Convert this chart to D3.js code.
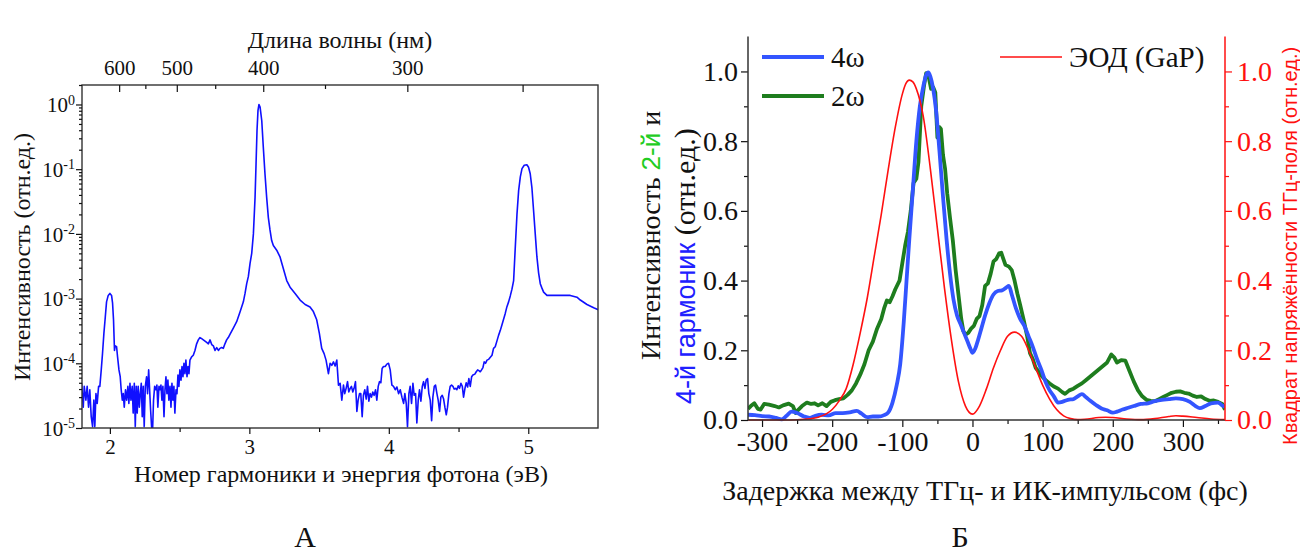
<!DOCTYPE html>
<html>
<head>
<meta charset="utf-8">
<script src="https://cdn.jsdelivr.net/npm/d3@7"></script>
<style>
  body { margin: 0; background: #fff; }
  svg { display: block; }
</style>
</head>
<body>
<svg id="fig" width="1300" height="553"></svg>
<script>
// ---------- Panel A: harmonic spectrum (log scale) ----------
const energy = [
  1.797,1.809,1.816,1.828,1.837,1.847,1.856,1.866,1.876,1.885,1.892,1.900,1.909,1.919,1.928,1.938,1.947,1.957,1.967,1.976,
  1.988,2.000,2.012,2.019,2.026,2.033,2.038,2.048,2.055,2.065,2.074,2.081,2.089,2.096,2.103,2.112,2.120,2.129,2.136,2.144,
  2.151,2.160,2.167,2.175,2.182,2.189,2.196,2.203,2.211,2.218,2.225,2.232,2.239,2.246,2.254,2.263,2.270,2.278,2.285,2.292,
  2.299,2.306,2.313,2.321,2.330,2.337,2.344,2.352,2.359,2.366,2.373,2.380,2.388,2.395,2.402,2.409,2.416,2.423,2.431,2.438,
  2.445,2.452,2.459,2.466,2.474,2.481,2.488,2.495,2.502,2.510,2.517,2.524,2.531,2.538,2.545,2.553,2.560,2.567,2.574,2.586,
  2.598,2.610,2.622,2.634,2.646,2.658,2.670,2.682,2.694,2.706,2.718,2.730,2.742,2.754,2.766,2.778,2.789,2.801,2.813,2.825,
  2.837,2.849,2.861,2.885,2.909,2.933,2.957,2.969,2.981,2.993,3.005,3.017,3.029,3.041,3.048,3.055,3.062,3.069,3.077,3.089,
  3.100,3.112,3.124,3.136,3.148,3.160,3.172,3.196,3.220,3.244,3.268,3.292,3.328,3.364,3.400,3.435,3.459,3.483,3.502,3.519,
  3.536,3.550,3.567,3.579,3.591,3.603,3.615,3.627,3.639,3.651,3.663,3.675,3.684,3.694,3.704,3.713,3.723,3.732,3.742,3.751,
  3.761,3.771,3.780,3.790,3.799,3.809,3.818,3.828,3.838,3.847,3.857,3.866,3.876,3.885,3.895,3.905,3.914,3.924,3.933,3.943,
  3.952,3.962,3.974,3.986,3.998,4.010,4.022,4.034,4.046,4.058,4.070,4.082,4.094,4.106,4.115,4.125,4.134,4.144,4.153,4.163,
  4.173,4.182,4.192,4.201,4.211,4.220,4.230,4.240,4.249,4.259,4.268,4.278,4.287,4.297,4.307,4.316,4.326,4.335,4.345,4.354,
  4.364,4.373,4.383,4.393,4.402,4.412,4.421,4.431,4.440,4.450,4.460,4.469,4.479,4.488,4.498,4.507,4.517,4.527,4.536,4.546,
  4.555,4.565,4.574,4.584,4.594,4.603,4.617,4.627,4.637,4.646,4.656,4.665,4.675,4.684,4.694,4.704,4.716,4.728,4.740,4.751,
  4.763,4.775,4.787,4.799,4.811,4.823,4.835,4.847,4.859,4.871,4.883,4.895,4.907,4.919,4.931,4.943,4.955,4.971,4.990,5.002,
  5.014,5.026,5.038,5.050,5.062,5.074,5.086,5.098,5.110,5.134,5.182,5.254,5.301,5.349,5.373,5.421,5.469,5.510
];
const intensity = [
  4.9e-5,2.1e-5,4.4e-5,2.7e-5,4.4e-5,2.1e-5,3.9e-5,1.5e-5,1.05e-5,2.7e-5,1.05e-5,3.4e-5,2.4e-5,4.4e-5,4.4e-5,7.9e-5,1.41e-4,2.9e-4,5.2e-4,8.9e-4,
  1.12e-3,1.2e-3,1.12e-3,8.6e-4,4.7e-4,1.58e-4,1.86e-4,1.8e-4,1.26e-4,7.9e-5,6.2e-5,3.9e-5,2.7e-5,3.4e-5,2.1e-5,3.9e-5,2.7e-5,4.4e-5,2.4e-5,4.9e-5,
  2.7e-5,4.4e-5,1.7e-5,4.9e-5,1.05e-5,4.4e-5,1.7e-5,4.4e-5,2.1e-5,3.4e-5,4.9e-5,1.5e-5,4.4e-5,1.05e-5,4.4e-5,6.2e-5,3.4e-5,7.9e-5,3.9e-5,1.9e-5,
  1.05e-5,9.0e-6,2.7e-5,4.4e-5,3.9e-5,4.6e-5,2.1e-5,4.4e-5,3.9e-5,4.6e-5,2.7e-5,4.4e-5,1.5e-5,3.9e-5,6.2e-5,3.4e-5,5.5e-5,2.7e-5,4.4e-5,2.1e-5,
  4.9e-5,2.7e-5,4.4e-5,1.7e-5,3.9e-5,3.4e-5,6.6e-5,4.4e-5,7.9e-5,5.5e-5,8.9e-5,6.2e-5,1.0e-4,6.9e-5,1.12e-4,6.2e-5,8.9e-5,6.9e-5,1.12e-4,1.26e-4,
  1.33e-4,1.58e-4,2.0e-4,2.3e-4,2.5e-4,2.4e-4,2.3e-4,2.2e-4,2.1e-4,2.0e-4,2.3e-4,1.95e-4,1.86e-4,1.58e-4,1.75e-4,1.58e-4,1.7e-4,1.75e-4,1.7e-4,2.0e-4,
  2.3e-4,2.5e-4,2.8e-4,3.5e-4,4.4e-4,6.2e-4,8.9e-4,1.2e-3,1.7e-3,2.2e-3,3.5e-3,5.0e-3,1.0e-2,3.7e-2,0.12,0.40,0.81,1.0,0.91,0.56,
  0.22,0.085,0.037,0.018,0.0115,7.9e-3,6.6e-3,5.6e-3,4.4e-3,2.9e-3,1.9e-3,1.5e-3,1.2e-3,9.5e-4,8.1e-4,7.4e-4,6.3e-4,4.7e-4,2.9e-4,1.7e-4,
  1.41e-4,1.12e-4,6.9e-5,1.0e-4,9.3e-5,1.05e-4,9.1e-5,1.12e-4,4.6e-5,4.9e-5,2.7e-5,4.6e-5,3.4e-5,4.1e-5,5.2e-5,3.6e-5,4.1e-5,4.4e-5,3.6e-5,4.1e-5,
  5.2e-5,1.8e-5,2.7e-5,3.4e-5,3.4e-5,1.5e-5,3.2e-5,3.9e-5,2.8e-5,4.4e-5,2.6e-5,3.4e-5,3.0e-5,3.6e-5,3.2e-5,3.9e-5,2.7e-5,4.4e-5,5.2e-5,5.0e-5,
  8.3e-5,8.9e-5,8.9e-5,9.7e-5,1.0e-4,7.9e-5,4.6e-5,4.4e-5,3.9e-5,4.3e-5,3.4e-5,3.9e-5,3.0e-5,2.4e-5,3.4e-5,2.4e-5,1.05e-5,3.4e-5,4.4e-5,2.4e-5,
  4.9e-5,3.2e-5,3.4e-5,1.2e-5,2.7e-5,3.9e-5,2.6e-5,4.4e-5,5.2e-5,4.1e-5,5.5e-5,5.8e-5,3.4e-5,2.7e-5,1.3e-5,3.0e-5,4.4e-5,4.6e-5,3.4e-5,2.7e-5,
  1.8e-5,3.0e-5,3.2e-5,2.8e-5,2.1e-5,1.6e-5,2.1e-5,3.4e-5,4.4e-5,4.6e-5,4.4e-5,4.0e-5,4.1e-5,3.9e-5,4.5e-5,4.1e-5,4.9e-5,4.4e-5,3.0e-5,4.1e-5,
  5.0e-5,4.3e-5,5.8e-5,4.4e-5,6.2e-5,6.6e-5,6.8e-5,7.4e-5,7.9e-5,7.7e-5,7.4e-5,7.9e-5,8.6e-5,1.05e-4,1.0e-4,1.12e-4,1.15e-4,1.24e-4,1.33e-4,1.7e-4,
  1.8e-4,2.2e-4,2.7e-4,3.2e-4,3.9e-4,4.8e-4,5.9e-4,7.5e-4,8.9e-4,1.1e-3,1.4e-3,1.9e-3,6.3e-3,2.0e-2,4.7e-2,7.6e-2,0.102,0.115,0.117,0.107,
  0.085,0.052,0.023,0.010,4.4e-3,2.5e-3,1.7e-3,1.45e-3,1.26e-3,1.12e-3,1.12e-3,1.12e-3,1.12e-3,1.05e-3,9.5e-4,8.1e-4,7.2e-4,6.6e-4
];
const energyTicks = [2, 3, 4, 5];
const energyMinorTicks = [2.5, 3.5, 4.5];
const wavelengthTicks = [600, 500, 400, 300, 250];
const wavelengthLabels = [600, 500, 400, 300];
const wavelengthMinorTicks = [550, 450, 350];
const decadeTicks = [1e-5, 1e-4, 1e-3, 1e-2, 1e-1, 1];
const HC = 1239.84; // eV·nm

// ---------- Panel Б: delay scans ----------
const delay4w = [-320,-310,-300,-290,-280,-272,-265,-258,-250,-240,-232,-224,-215,-205,-195,-185,-175,-165,-158,-150,
  -142,-134,-126,-120,-114,-108,-103,-98,-94,-90,-85,-80,-75,-70,-66,-63,-60,-56,-52,-47,
  -42,-37,-32,-27,-22,-17,-12,-7,-3,0,4,8,13,18,24,30,36,42,48,52,
  56,62,68,74,80,86,92,98,104,110,116,122,128,136,144,150,156,162,168,176,
  184,192,200,206,214,222,230,240,250,260,270,280,290,300,310,318,324,332,340,350,356,360];
const signal4w = [0.015,0.014,0.011,0.010,0.006,0.002,0.012,0.024,0.020,0.010,0.006,0.012,0.015,0.013,0.020,0.020,0.022,0.026,0.018,0.008,
  0.010,0.010,0.014,0.022,0.050,0.100,0.160,0.280,0.400,0.520,0.660,0.800,0.900,0.958,0.990,0.997,0.985,0.950,0.890,0.770,
  0.640,0.520,0.420,0.345,0.300,0.275,0.250,0.225,0.205,0.193,0.205,0.230,0.265,0.300,0.335,0.360,0.370,0.372,0.380,0.385,
  0.360,0.320,0.290,0.270,0.240,0.210,0.175,0.145,0.110,0.085,0.068,0.050,0.052,0.058,0.060,0.068,0.074,0.065,0.055,0.043,
  0.033,0.028,0.021,0.024,0.030,0.035,0.040,0.046,0.048,0.054,0.058,0.060,0.062,0.060,0.052,0.040,0.034,0.040,0.048,0.050,0.042,0.038];

const delay2w = [-320,-316,-311,-306,-302,-297,-290,-282,-276,-270,-262,-256,-252,-248,-243,-236,-230,-225,-220,-214,
  -208,-202,-196,-190,-184,-178,-172,-166,-160,-154,-148,-142,-136,-130,-126,-122,-118,-114,-110,-104,
  -100,-96,-92,-88,-84,-80,-77,-73,-69,-66,-62,-59,-56,-53,-50,-47,-45,-42,-39,-36,
  -32,-28,-24,-20,-16,-13,-10,-6,-2,2,6,10,14,18,22,26,30,34,38,41,
  44,47,52,56,60,64,68,73,78,82,86,90,94,98,104,110,116,122,128,132,
  138,144,150,156,162,168,174,180,186,192,198,202,206,212,218,224,230,236,242,248,
  254,260,266,272,278,284,290,296,302,308,314,320,326,332,338,344,350,356,360];
const signal2w = [0.032,0.040,0.048,0.032,0.030,0.046,0.044,0.040,0.036,0.042,0.047,0.040,0.020,0.030,0.040,0.050,0.046,0.048,0.042,0.048,
  0.040,0.052,0.057,0.060,0.062,0.072,0.085,0.105,0.130,0.160,0.200,0.225,0.262,0.290,0.320,0.343,0.338,0.355,0.375,0.400,
  0.450,0.500,0.540,0.600,0.680,0.692,0.740,0.900,0.960,0.995,0.980,0.950,0.955,0.940,0.810,0.840,0.835,0.760,0.720,0.650,
  0.580,0.515,0.430,0.360,0.290,0.255,0.245,0.250,0.262,0.270,0.290,0.298,0.330,0.385,0.392,0.420,0.455,0.462,0.478,0.480,
  0.462,0.445,0.440,0.430,0.400,0.363,0.330,0.287,0.240,0.192,0.175,0.150,0.140,0.128,0.115,0.105,0.096,0.090,0.080,0.075,
  0.085,0.090,0.098,0.105,0.115,0.125,0.135,0.145,0.155,0.165,0.188,0.180,0.165,0.172,0.170,0.140,0.110,0.085,0.068,0.058,
  0.055,0.054,0.060,0.066,0.072,0.078,0.081,0.082,0.078,0.076,0.070,0.066,0.068,0.060,0.055,0.056,0.052,0.046,0.030];

const delayEO = [-320,-300,-280,-260,-240,-220,-200,-190,-180,-170,-160,-150,-140,-130,-120,-110,-100,-95,-90,-85,
  -80,-70,-60,-50,-40,-30,-20,-10,0,10,20,30,40,50,60,70,80,90,100,110,
  120,130,140,150,160,180,190,200,220,240,260,280,290,300,320,340,360];
const fieldSquared = [0.0,0.0,0.0,0.0,0.002,0.008,0.03,0.055,0.09,0.16,0.25,0.35,0.47,0.59,0.72,0.84,0.935,0.965,0.975,0.97,
  0.95,0.87,0.72,0.55,0.38,0.23,0.11,0.04,0.017,0.04,0.09,0.15,0.20,0.24,0.252,0.24,0.20,0.15,0.10,0.06,
  0.03,0.012,0.004,0.001,0.002,0.007,0.008,0.007,0.003,0.001,0.004,0.010,0.012,0.011,0.007,0.003,0.001];

const delayTicks = [-300, -200, -100, 0, 100, 200, 300];
const delayMinorTicks = [-250, -150, -50, 50, 150, 250, 350];
const ampTicks = [0, 0.2, 0.4, 0.6, 0.8, 1.0];
const ampMinorTicks = [0.1, 0.3, 0.5, 0.7, 0.9];

const svg = d3.select("#fig");
const SERIF = '"Liberation Serif"';
const SANS = '"Liberation Sans"';
const INK = "#111";

// apply a font family (inline style) and size (attribute)
function font(sel, family, size) {
  return sel.style("font-family", family).attr("font-size", size);
}

// ===== Panel A =====
const A = { l: 82, r: 598, t: 85, b: 428 };
const xA = d3.scaleLinear().domain([1.8, 5.5]).range([A.l, A.r]);
const yA = d3.scaleLog().domain([1e-5, 2]).range([A.b, A.t]);

svg.append("clipPath").attr("id", "clipA")
  .append("rect").attr("x", A.l).attr("y", A.t).attr("width", A.r - A.l).attr("height", A.b - A.t);

const spectrum = energy.map((e, i) => [e, intensity[i]]);
svg.append("path")
  .datum(spectrum)
  .attr("clip-path", "url(#clipA)")
  .attr("fill", "none")
  .attr("stroke", "#1010ff")
  .attr("stroke-width", 1.6)
  .attr("stroke-linejoin", "round")
  .attr("d", d3.line().x(d => xA(d[0])).y(d => yA(d[1])));

// frame
svg.append("rect").attr("x", A.l).attr("y", A.t).attr("width", A.r - A.l).attr("height", A.b - A.t)
  .attr("fill", "none").attr("stroke", "#333").attr("stroke-width", 1.4);

function styleAxis(g, color, size) {
  g.attr("font-family", null).attr("font-size", null);
  g.select(".domain").remove();
  g.selectAll(".tick line").attr("stroke", color).attr("stroke-width", 1.2);
  font(g.selectAll("text").attr("fill", color), SERIF, size);
}

// bottom energy axis
const gAb = svg.append("g").attr("transform", `translate(0,${A.b})`)
  .call(d3.axisBottom(xA).tickValues(energyTicks).tickSize(6).tickPadding(5).tickFormat(d3.format("d")));
styleAxis(gAb, INK, 21);
const gAbm = svg.append("g").attr("transform", `translate(0,${A.b})`)
  .call(d3.axisBottom(xA).tickValues(energyMinorTicks).tickSize(4).tickFormat(""));
styleAxis(gAbm, INK, 21);

// top wavelength axis (ticks inward)
const gAt = svg.append("g").attr("transform", `translate(0,${A.t})`)
  .call(d3.axisTop(xA).tickValues(wavelengthTicks.map(l => HC / l)).tickSize(-7).tickPadding(10)
    .tickFormat(e => { const l = Math.round(HC / e); return wavelengthLabels.includes(l) ? l : ""; }));
styleAxis(gAt, INK, 21);
const gAtm = svg.append("g").attr("transform", `translate(0,${A.t})`)
  .call(d3.axisTop(xA).tickValues(wavelengthMinorTicks.map(l => HC / l)).tickSize(-4).tickFormat(""));
styleAxis(gAtm, INK, 21);

// left log axis with 10^n labels
const gAl = svg.append("g").attr("transform", `translate(${A.l},0)`)
  .call(d3.axisLeft(yA).tickValues(decadeTicks).tickSize(6).tickFormat(""));
styleAxis(gAl, INK, 21);
gAl.selectAll(".tick").each(function (d) {
  const t = font(d3.select(this).append("text"), SERIF, 21)
    .attr("x", -7).attr("dy", "0.35em").attr("text-anchor", "end").attr("fill", INK);
  t.append("tspan").text("10");
  t.append("tspan").attr("dy", "-0.55em").attr("font-size", 14).text(String(Math.round(Math.log10(d))));
});
const minorLog = [];
decadeTicks.forEach(dv => { for (let k = 2; k <= 9; k++) if (dv * k <= 2) minorLog.push(dv * k); });
const gAlm = svg.append("g").attr("transform", `translate(${A.l},0)`)
  .call(d3.axisLeft(yA).tickValues(minorLog).tickSize(3).tickFormat(""));
styleAxis(gAlm, INK, 21);

function label(x, y, size, txt, rotate) {
  return font(svg.append("text"), SERIF, size)
    .attr("transform", rotate ? `translate(${x},${y}) rotate(-90)` : `translate(${x},${y})`)
    .attr("text-anchor", "middle").attr("fill", INK).text(txt);
}
label(340, 48, 24, "Длина волны (нм)");
label(341, 482, 24, "Номер гармоники и энергия фотона (эВ)");
label(30, 257, 24, "Интенсивность (отн.ед.)", true);
label(305, 547, 30, "А");

// ===== Panel Б =====
const B = { l: 748, r: 1225, t: 36.6, b: 420 };
const xB = d3.scaleLinear().domain([-320, 360]).range([B.l, B.r]);
const yB = d3.scaleLinear().domain([0, 1.1]).range([B.b, B.t]);

svg.append("clipPath").attr("id", "clipB")
  .append("rect").attr("x", B.l).attr("y", B.t).attr("width", B.r - B.l).attr("height", B.b - B.t + 2);

const lineB = d3.line().x(d => xB(d[0])).y(d => yB(d[1]));
const gLines = svg.append("g").attr("clip-path", "url(#clipB)");
gLines.append("path").datum(delay2w.map((t, i) => [t, signal2w[i]]))
  .attr("fill", "none").attr("stroke", "#1e7d1e").attr("stroke-width", 3.8)
  .attr("stroke-linejoin", "round").attr("d", lineB.curve(d3.curveLinear));
gLines.append("path").datum(delay4w.map((t, i) => [t, signal4w[i]]))
  .attr("fill", "none").attr("stroke", "#3355ff").attr("stroke-width", 3.8)
  .attr("stroke-linejoin", "round").attr("d", lineB.curve(d3.curveMonotoneX));
gLines.append("path").datum(delayEO.map((t, i) => [t, fieldSquared[i]]))
  .attr("fill", "none").attr("stroke", "#ff1010").attr("stroke-width", 1.6)
  .attr("d", lineB.curve(d3.curveMonotoneX));

function axisLine(x1, y1, x2, y2, color) {
  svg.append("line").attr("x1", x1).attr("y1", y1).attr("x2", x2).attr("y2", y2)
    .attr("stroke", color).attr("stroke-width", 1.5);
}

// bottom delay axis
const gBb = svg.append("g").attr("transform", `translate(0,${B.b})`)
  .call(d3.axisBottom(xB).tickValues(delayTicks).tickSize(7).tickPadding(4).tickFormat(d => String(d)));
styleAxis(gBb, INK, 28);
const gBbm = svg.append("g").attr("transform", `translate(0,${B.b})`)
  .call(d3.axisBottom(xB).tickValues(delayMinorTicks).tickSize(4).tickFormat(""));
styleAxis(gBbm, INK, 28);
axisLine(B.l, B.b, B.r, B.b, "#333");

// left amplitude axis
const gBl = svg.append("g").attr("transform", `translate(${B.l},0)`)
  .call(d3.axisLeft(yB).tickValues(ampTicks).tickSize(7).tickPadding(3).tickFormat(d3.format(".1f")));
styleAxis(gBl, INK, 28);
const gBlm = svg.append("g").attr("transform", `translate(${B.l},0)`)
  .call(d3.axisLeft(yB).tickValues(ampMinorTicks).tickSize(4).tickFormat(""));
styleAxis(gBlm, INK, 28);
axisLine(B.l, B.t, B.l, B.b, "#333");

// right field axis (red)
const gBr = svg.append("g").attr("transform", `translate(${B.r},0)`)
  .call(d3.axisRight(yB).tickValues(ampTicks).tickSize(7).tickPadding(5).tickFormat(d3.format(".1f")));
styleAxis(gBr, "#ff1010", 28);
const gBrm = svg.append("g").attr("transform", `translate(${B.r},0)`)
  .call(d3.axisRight(yB).tickValues(ampMinorTicks).tickSize(4).tickFormat(""));
styleAxis(gBrm, "#ff1010", 28);
axisLine(B.r, B.t, B.r, B.b, "#ff1010");

// legend
const legend = [
  { x: 762, y: 57, color: "#3355ff", w: 3.8, label: "4ω" },
  { x: 762, y: 96, color: "#1e7d1e", w: 3.8, label: "2ω" },
  { x: 1000, y: 57, color: "#ff1010", w: 1.6, label: "ЭОД (GaP)" }
];
legend.forEach(d => {
  svg.append("line").attr("x1", d.x).attr("x2", d.x + 62).attr("y1", d.y).attr("y2", d.y)
    .attr("stroke", d.color).attr("stroke-width", d.w);
  font(svg.append("text"), SERIF, 29)
    .attr("x", d.x + 69).attr("y", d.y).attr("dy", "0.35em").attr("fill", INK).text(d.label);
});

// axis titles
label(985, 500, 28, "Задержка между ТГц- и ИК-импульсом (фс)");

const yt1 = font(svg.append("text"), SERIF, 28)
  .attr("transform", "translate(660,360) rotate(-90)").attr("fill", INK);
yt1.append("tspan").text("Интенсивность ");
font(yt1.append("tspan"), SANS, 26).attr("fill", "#22cc22").text("2-й");
yt1.append("tspan").text(" и");

const yt2 = font(svg.append("text"), SERIF, 30)
  .attr("transform", "translate(695,404) rotate(-90)").attr("fill", INK);
font(yt2.append("tspan"), SANS, 27).attr("fill", "#2020ff").text("4-й гармоник");
yt2.append("tspan").text(" (отн.ед.)");

font(svg.append("text"), SANS, 20)
  .attr("transform", "translate(1297,445) rotate(-90)").attr("fill", "#ff1010")
  .text("Квадрат напряжённости ТГц-поля (отн.ед.)");

label(960, 547, 30, "Б");
</script>
</body>
</html>
